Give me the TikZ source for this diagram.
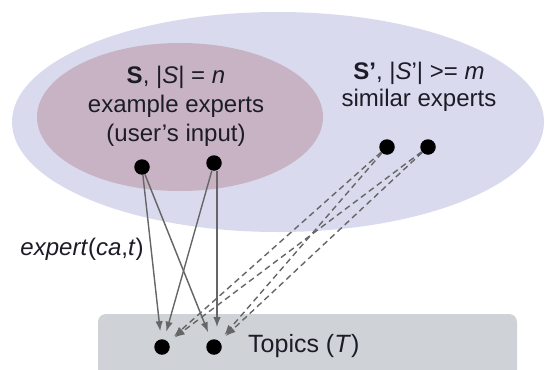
\documentclass[tikz,border=0pt]{standalone}
\usepackage{fontspec}
\setmainfont{Liberation Sans}
\usetikzlibrary{arrows.meta,positioning}
\definecolor{outerset}{RGB}{217,218,237}
\definecolor{innerset}{RGB}{200,179,196}
\definecolor{topicbox}{RGB}{207,210,215}
\definecolor{inkdark}{RGB}{28,28,40}
\definecolor{edgegray}{RGB}{102,102,102}
\tikzset{
  dot/.style={circle,fill=black,inner sep=0pt,minimum size=15.5pt},
  setlabel/.style={align=center,text=inkdark,inner sep=0pt,
    font=\fontsize{24}{29}\selectfont},
  edge/.style={draw=edgegray,line width=1.4pt,shorten >=8pt,
    -{Latex[length=10pt,width=7.5pt]}},
  simedge/.style={edge,dash pattern=on 6pt off 4pt}
}

\begin{document}
\begin{tikzpicture}[x=1pt,y=-1pt]
  \useasboundingbox (0,0) rectangle (545,369);

  % the two sets of experts
  \fill [outerset] (278,122) ellipse [x radius=266,y radius=110];
  \fill [innerset] (180,117) ellipse [x radius=143,y radius=74];

  % topics
  \fill [topicbox,rounded corners=8pt] (98,314) rectangle (517,385);

  \node [setlabel] (S) at (176,106) {\textbf{S}, |\textit{S}| = \textit{n}
    \\ example experts \\ (user’s input)};
  \node [setlabel,font=\fontsize{24}{27}\selectfont] (Sp) at (419,87)
        {\textbf{S’}, |\textit{S}’| >= \textit{m} \\ similar experts};

  \node [dot] (s1) at (142,167) {};
  \node [dot] (s2) at (214,163) {};
  \node [dot] (s3) at (387,147) {};
  \node [dot] (s4) at (428,147) {};

  \node [dot] (t1) at (162,347) {};
  \node [dot] (t2) at (214,347) {};

  \node [anchor=base west,text=inkdark,inner sep=0pt,
         font=\fontsize{25}{30}\selectfont] (T) at (248,352)
        {Topics (\textit{T})};

  \node [anchor=base,text=inkdark,inner sep=0pt,
         font=\fontsize{24}{29}\selectfont] (expert) at (82,255)
        {\textit{expert}(\textit{ca},\textit{t})};

  % expert(ca,t) edges
  \draw [edge] (s1) -- (t1);
  \draw [edge] (s1) -- (t2);
  \draw [edge] (s2) -- (t1);
  \draw [edge,shorten >=12pt] ([xshift=3pt]s2.south) -- ([xshift=3pt]t2.north);

  \draw [simedge] (s3) -- (t1);
  \draw [simedge] (s3) -- (t2);
  \draw [simedge] (s4) -- (t1);
  \draw [simedge] (s4) -- (t2);

\end{tikzpicture}
\end{document}
